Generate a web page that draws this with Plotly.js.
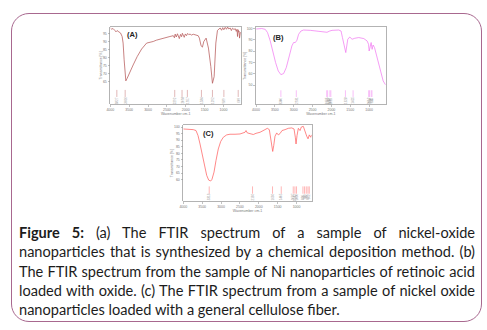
<!DOCTYPE html>
<html><head><meta charset="utf-8">
<script src="https://cdn.plot.ly/plotly-3.0.1.min.js"></script>
<style>
body{margin:0;background:#fff;}
#wrap{position:relative;width:487px;height:330px;overflow:hidden;background:#fff;}
#frame{position:absolute;left:11px;top:13px;width:471px;height:309px;box-sizing:border-box;border:1.3px solid #a8688f;border-radius:18px;}
#chart{position:absolute;left:0;top:0;width:487px;height:330px;}
#cap{position:absolute;left:19px;top:223px;width:456px;font-family:Lato,"Open Sans",sans-serif;font-size:15px;line-height:19.3px;color:#1c1c1c;}
#cap.measure{white-space:nowrap;}
#cap .l{text-align:justify;text-align-last:justify;}
#cap .last{text-align:left;}
</style></head>
<body><div id="wrap"><div id="frame"></div><div id="chart"></div>
<div id="cap" class="measure">
<div class="l"><span class="t"><b>Figure 5:</b> (a) The FTIR spectrum of a sample of nickel-oxide</span></div>
<div class="l"><span class="t">nanoparticles that is synthesized by a chemical deposition method. (b)</span></div>
<div class="l"><span class="t">The FTIR spectrum from the sample of Ni nanoparticles of retinoic acid</span></div>
<div class="l"><span class="t">loaded with oxide. (c) The FTIR spectrum from a sample of nickel oxide</span></div>
<div class="last"><span class="t">nanoparticles loaded with a general cellulose fiber.</span></div>
</div></div>
<script>
// ---- data ----
const xTickVals = [4000, 3500, 3000, 2500, 2000, 1500, 1000];
const xTickText = ['4000', '3500', '3000', '2500', '2000', '1500', '1000'];

const aWn = [3995,3960,3930,3900,3880,3850,3820,3793,3760,3729,3686,3660,3633,3606,3588,3553,3481,3394,3287,3170,3037,2950,2862,2780,2683,2600,2505,2420,2330,2300,2280,2250,2220,2196,2170,2140,2110,2090,2063,2040,2010,1980,1950,1920,1885,1850,1800,1750,1707,1670,1638,1593,1558,1521,1460,1398,1335,1292,1247,1202,1159,1120,1087,1050,1020,990,954,920,890,860,821,790,760,720,688,660,640,627,610,600,585,574,555,538];
const aT  = [98.6,97.8,98.3,97.0,97.1,96.2,97.0,96.5,95.8,95.5,93.3,89.2,78.8,68.3,65.7,67.3,71.5,75.6,80.8,85.5,89.2,89.6,90.2,91.0,91.7,92.4,93.0,93.3,93.8,92.5,94.8,93.0,95.0,94.0,92.0,94.6,93.2,95.3,94.0,92.8,94.9,93.8,95.2,94.5,94.8,94.2,94.7,94.3,94.4,93.8,92.3,87.5,86.7,90.2,92.3,86.1,74.6,64.2,68.3,89.2,97.1,98.0,98.6,97.2,98.8,97.5,99.0,97.8,99.2,98.0,98.6,97.0,98.5,97.6,98.2,96.5,97.8,93.3,97.5,96.0,96.5,92.3,95.5,96.0];
const aPeaks = [3827, 3606, 2292, 2098, 1957, 1584, 1292, 989, 609];
const aYTicks = [65, 70, 75, 80, 85, 90, 95];

const bWn = [3995,3846,3755,3694,3622,3553,3481,3409,3340,3268,3197,3117,3048,3003,2957,2915,2870,2808,2737,2558,2383,2204,2117,2045,1984,1806,1744,1707,1672,1638,1619,1593,1566,1513,1452,1380,1274,1140,1053,1015,999,973,946,920,893,856,787,696,627,563];
const bT  = [99.7,100.1,99.4,96.5,89.1,78.8,70.0,62.5,59.3,60.2,65.5,75.8,84.7,87.7,87.7,89.7,95.0,97.9,98.8,98.5,97.9,97.0,96.8,97.9,98.5,98.8,97.9,92.1,86.2,81.7,78.8,84.7,90.6,92.6,90.6,91.5,92.1,91.2,89.1,86.2,80.2,83.8,87.7,81.7,85.5,83.2,74.4,62.5,53.7,50.2];
const bPeaks = [3340, 2931, 2125, 2100, 2040, 2015, 1628, 1425, 1012, 990, 945, 925];
const bYTicks = [50, 60, 70, 80, 90, 100];

const cWn = [4000,3868,3735,3663,3610,3557,3497,3433,3380,3327,3274,3240,3186,3133,3073,3009,2940,2850,2763,2630,2497,2365,2338,2304,2187,2145,2073,1967,1835,1774,1721,1684,1650,1631,1604,1570,1525,1483,1438,1385,1305,1218,1127,1066,1032,1013,987,952,907,873,820,775,730,695,661,624,600];
const cT  = [98.5,98.5,98.0,97.3,93.5,87.1,78.3,69.5,63.2,59.6,58.9,60.2,65.7,74.6,83.3,89.0,92.2,94.0,94.5,94.5,94.7,96.0,97.3,95.5,95.0,94.3,95.2,96.0,98.0,99.0,98.0,92.2,84.6,81.4,85.9,93.0,95.5,94.0,95.0,97.3,98.0,99.0,99.3,98.5,92.2,87.1,93.5,99.0,97.3,100.0,100.5,96.0,93.0,91.0,94.0,92.2,94.0];
const cPeaks = [3313, 2166, 1636, 1405, 1087, 1042, 1000, 830, 787, 742, 697, 662];
const cYTicks = [60, 65, 70, 75, 80, 85, 90, 95, 100];

// ---- drawing ----
const W = 487, H = 330;
const panels = [
  {wn:aWn, t:aT, peaks:aPeaks, yt:aYTicks, col:'#b65858', pcol:'#d9a6a6', xr:[4000,535], yr:[51.3,99.4],
   box:[110.3,241,26.7,104], mk:[0.818,0.909,0.955], lab:'(A)', labPos:[132.5,34]},
  {wn:bWn, t:bT, peaks:bPeaks, yt:bYTicks, col:'#f27cf2', pcol:'#f6aef6', xr:[4000,560], yr:[33,101.2],
   box:[256,385.7,27.3,104.3], mk:[0.818,0.905,0.952], lab:'(B)', labPos:[278.5,37.5]},
  {wn:cWn, t:cT, peaks:cPeaks, yt:cYTicks, col:'#ff6262', pcol:'#ffa4a4', xr:[4000,598], yr:[43.7,101.3],
   box:[183.3,311.7,125.3,201], mk:[0.807,0.904,0.947], lab:'(C)', labPos:[208,133.7]}
];

const data = [], annotations = [];
const layout = {
  width: W, height: H, margin:{l:0,r:0,t:0,b:0},
  paper_bgcolor:'rgba(0,0,0,0)', plot_bgcolor:'#fff', showlegend:false,
  font:{family:'Liberation Sans, Arial, sans-serif'}
};
const axCommon = {showline:true, mirror:true, linecolor:'#a0a0a0', linewidth:0.8, ticks:'outside',
  ticklen:2, tickwidth:0.6, tickcolor:'#999', tickfont:{size:3.5,color:'#777'}, showgrid:false,
  zeroline:false, automargin:false, fixedrange:true};

panels.forEach((p, i) => {
  const n = i === 0 ? '' : String(i + 1);
  const xa = 'x' + n, ya = 'y' + n;
  layout['xaxis' + n] = Object.assign({}, axCommon, {
    domain:[p.box[0]/W, p.box[1]/W], range:p.xr, anchor:ya,
    tickvals:xTickVals, ticktext:xTickText,
    title:{text:'Wavenumber cm-1', font:{size:3.5,color:'#777'}, standoff:0}
  });
  layout['yaxis' + n] = Object.assign({}, axCommon, {
    domain:[1 - p.box[3]/H, 1 - p.box[2]/H], range:p.yr, anchor:xa,
    tickvals:p.yt, ticktext:p.yt.map(String),
    title:{text:'Transmittance [%]', font:{size:3.5,color:'#777'}, standoff:0}
  });
  data.push({x:p.wn, y:p.t, xaxis:xa, yaxis:ya, type:'scatter', mode:'lines',
    line:{color:p.col, width:0.75}, hoverinfo:'skip'});
  const span = p.yr[1] - p.yr[0];
  const yTop = p.yr[1] - p.mk[0]*span, yBot = p.yr[1] - p.mk[1]*span, yLab = p.yr[1] - p.mk[2]*span;
  const mx = [], my = [];
  p.peaks.forEach(v => { mx.push(v, v, null); my.push(yTop, yBot, null); });
  data.push({x:mx, y:my, xaxis:xa, yaxis:ya, type:'scatter', mode:'lines',
    line:{color:p.pcol, width:0.8}, hoverinfo:'skip'});
  p.peaks.forEach(v => annotations.push({x:v, y:yLab, xref:xa, yref:ya, text:String(v),
    textangle:-90, showarrow:false, font:{size:3,color:'#999'}, xanchor:'center', yanchor:'middle'}));
  annotations.push({x:p.labPos[0]/W, y:1 - p.labPos[1]/H, xref:'paper', yref:'paper', text:'<b>' + p.lab + '</b>',
    showarrow:false, font:{size:7.5,color:'#222',family:'Liberation Sans, Arial, sans-serif'}, xanchor:'center', yanchor:'middle'});
});
layout.annotations = annotations;

Plotly.newPlot('chart', data, layout, {staticPlot:true, displayModeBar:false});

// fit caption font: longest line must fit the column width (justified lines stretch to it)
(function(){
  const cap = document.getElementById('cap');
  const spans = cap.querySelectorAll('.t');
  let maxW = 0;
  spans.forEach(s => { maxW = Math.max(maxW, s.getBoundingClientRect().width); });
  const fs = 15 * 452 / maxW;
  cap.style.fontSize = fs.toFixed(2) + 'px';
  cap.classList.remove('measure');
})();
</script></body></html>
